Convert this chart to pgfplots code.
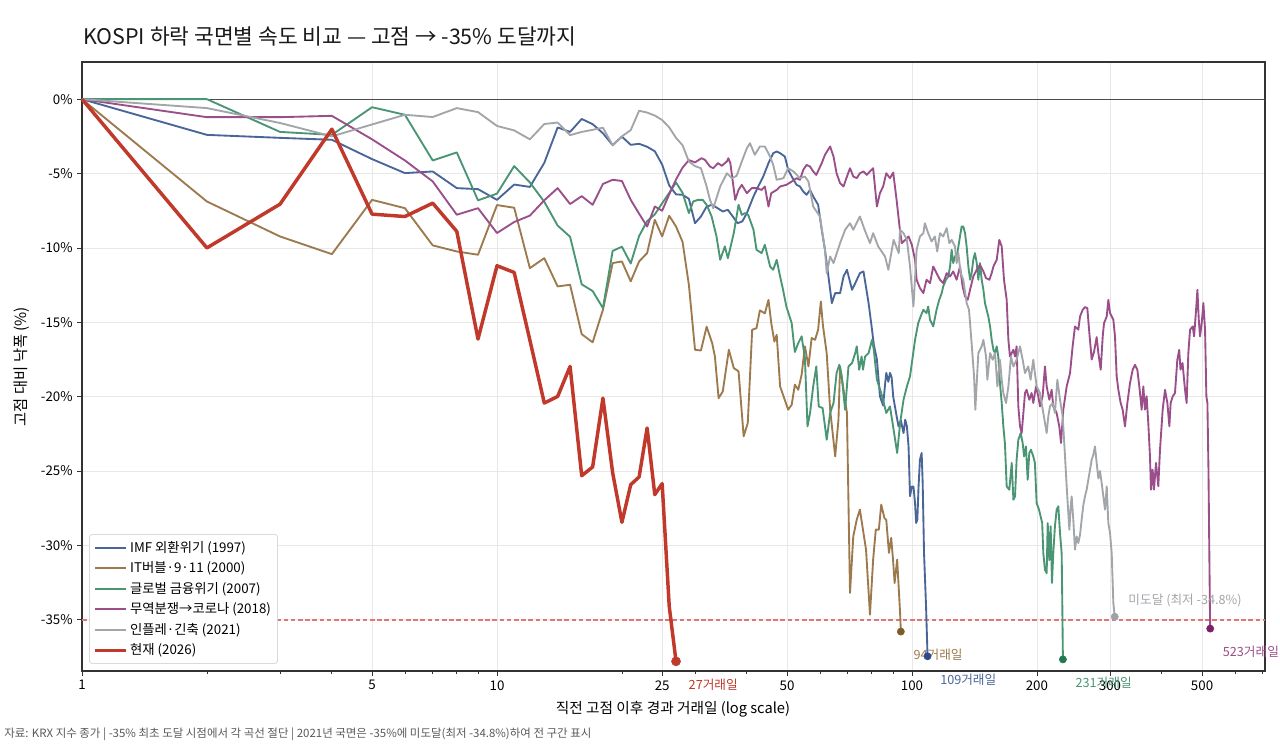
\documentclass[border=0pt]{standalone}
\usepackage{fontspec}
\setmainfont{Noto Sans CJK KR}
\usepackage{pgfplots}
\pgfplotsset{compat=1.18}
\definecolor{cIMF}{HTML}{4A6699}
\definecolor{cIT}{HTML}{9C7A4E}
\definecolor{cGFC}{HTML}{4A9573}
\definecolor{cTrade}{HTML}{9A4E8A}
\definecolor{cInfl}{HTML}{A2A5A9}
\definecolor{cNow}{HTML}{C0392B}
\definecolor{dIMF}{HTML}{2E4A88}
\definecolor{dIT}{HTML}{7F5A26}
\definecolor{dGFC}{HTML}{1F7A50}
\definecolor{dTrade}{HTML}{7E1E64}
\definecolor{dInfl}{HTML}{9EA1A6}
\definecolor{refline}{RGB}{226,118,118}
\begin{document}
\begin{tikzpicture}
\path[use as bounding box] (0,0) rectangle (960pt,-561.75pt);
\node[anchor=base west, inner sep=0pt, font=\fontsize{16.1}{18}\selectfont, text=black!90] at (62.25pt,-33.75pt) {KOSPI 하락 국면별 속도 비교 — 고점 → -35\% 도달까지};
\node[rotate=90, font=\fontsize{11.5}{13}\selectfont] at (16.5pt,-274.9pt) {고점 대비 낙폭 (\%)};
\node[font=\fontsize{11}{13}\selectfont] at (504.75pt,-531.75pt) {직전 고점 이후 경과 거래일 (log scale)};
\node[anchor=west, inner sep=0pt, font=\fontsize{8.6}{10}\selectfont, text=black!65] at (3pt,-550.5pt) {자료: KRX 지수 종가 | -35\% 최초 도달 시점에서 각 곡선 절단 | 2021년 국면은 -35\%에 미도달(최저 -34.8\%)하여 전 구간 표시};
\begin{axis}[
  at={(61.5pt,-503.25pt)}, anchor=south west,
  scale only axis, width=887.25pt, height=456.75pt,
  xmode=log, xmin=1, xmax=709, ymin=-38.45, ymax=2.5,
  clip=false,
  xtick={1,5,10,25,50,100,200,300,500},
  xticklabels={1,5,10,25,50,100,200,300,500},
  minor xtick={2,3,4,6,7,8,9,20,30,40,60,70,80,90,400,600,700},
  ytick={-35,-30,-25,-20,-15,-10,-5,0},
  yticklabels={-35\%,-30\%,-25\%,-20\%,-15\%,-10\%,-5\%,0\%},
  tick label style={font=\fontsize{10}{12}\selectfont},
  tick align=outside, tick pos=left,
  major tick length=3.5pt, minor tick length=2pt,
  tick style={black!80, line width=0.6pt},
  axis line style={black!80, line width=0.8pt},
  grid=major, major grid style={black!9, line width=0.5pt},
  legend style={at={(0.006,0.012)}, anchor=south west, draw=black!22, rounded corners=2pt,
    fill=white, font=\fontsize{10}{12}\selectfont, row sep=1.6pt, inner sep=3pt,
    cells={anchor=west}},
  legend image code/.code={\draw[#1] (0pt,0pt) -- (23pt,0pt);},
  every axis plot/.append style={line join=round},
]
\addplot[black!70, line width=0.75pt, forget plot] coordinates {(1,0) (709,0)};
\addplot[draw=refline, line width=1.2pt, dash pattern=on 3.4pt off 2pt, forget plot] coordinates {(1,-35) (709,-35)};

% IMF 1997
\addplot[cIMF, line width=1.4pt] coordinates {
(1,0)(2,-2.4)(3,-2.6)(4,-2.73)(5,-4.03)(6,-4.97)(7,-4.86)(8,-5.98)(9,-6.05)(10,-6.77)
(11,-5.74)(12,-5.9)(13,-4.28)(14,-1.9)(15,-2.2)(16,-1.33)(17,-1.68)(18,-2.29)(19,-3.09)(20,-2.52)
(21,-3.07)(22,-3.0)(23,-3.2)(24,-3.5)(25,-4.4)(26,-5.8)(27,-6.4)(28,-6.43)(29,-6.7)(30,-8.34)
(31,-7.89)(32,-7.22)(33,-7.1)(34,-7.33)(35,-7.55)(36,-7.44)(37,-7.89)(38,-8.34)(39,-8.22)(40,-7.66)
(41.5,-6.54)(42.6,-5.87)(43.8,-5.2)(45.1,-4.3)(46.3,-3.63)(47.2,-3.52)(48.1,-3.63)(49.4,-3.86)(50.3,-4.75)(51.3,-5.2)
(52.7,-5.76)(53.7,-5.87)(54.7,-6.21)(55.7,-6.43)(56.8,-6.1)(57.8,-6.54)(59.4,-7.1)(60.6,-8.78)(61.7,-10.13)(62.9,-11.92)
(64.1,-13.71)(65.3,-13.04)(67.1,-13.04)(68.4,-11.92)(69.7,-11.47)(71.7,-12.82)(73,-12.37)(74.9,-11.7)(76.4,-11.58)(78.6,-13.71)
(80.1,-15.5)(80.9,-16.5)(82.3,-17.5)(83.7,-19.98)(85.2,-20.6)(86.1,-19.2)(86.7,-18.4)(87.7,-19.0)(88.5,-18.4)(89.3,-18.7)
(90.1,-20.0)(91.8,-21.3)(92.8,-22.0)(94,-21.6)(95.4,-22.45)(96.3,-21.55)(97.2,-22.0)(98.1,-23.34)(98.9,-26.7)(99.9,-26.04)
(100.8,-26.04)(101.7,-27.16)(102.3,-28.5)(103,-28.28)(103.7,-26.04)(104.5,-24.24)(105.5,-23.79)(106.1,-25.81)(106.9,-30.52)(108.1,-34.1)
(109,-37.46)};
\addlegendentry{IMF 외환위기 (1997)}

% IT 2000
\addplot[cIT, line width=1.4pt] coordinates {
(1,0)(2,-6.88)(3,-9.23)(4,-10.42)(5,-6.77)(6,-7.33)(7,-9.83)(8,-10.24)(9,-10.46)(10,-7.12)
(11,-7.3)(12,-11.36)(13,-10.69)(14,-12.59)(15,-12.48)(16,-15.8)(17,-16.35)(18,-14.16)(19,-11.02)(20,-10.91)
(21,-12.25)(22,-10.91)(23,-10.35)(24,-8.11)(25,-9.23)(26,-7.84)(27,-8.56)(28,-9.6)(29,-12.5)(30,-16.85)
(31,-16.9)(32,-15.3)(33,-16.4)(33.5,-17.3)(34.2,-20.1)(35,-19.65)(36.2,-16.85)(37.2,-18.08)(38.2,-18.3)(39.3,-22.67)
(40.2,-21.78)(41.2,-15.5)(42.2,-15.4)(43,-14.2)(44.2,-14.4)(45.1,-13.5)(45.8,-15.06)(46.6,-16.3)(47.2,-15.84)(48.1,-19.31)
(49.2,-20.1)(50.3,-20.88)(51.3,-20.54)(52.2,-19.2)(53.2,-19.54)(54.2,-18.53)(55.2,-16.62)(56.3,-17.97)(57.3,-16.06)(58.4,-16.18)
(59.4,-15.5)(60.3,-13.6)(61,-15.2)(62.3,-17.1)(63.5,-20.88)(65.3,-24.02)(66.5,-21.55)(67.1,-17.97)(68.4,-19.54)(69.7,-21.1)
(70.9,-33.2)(72.2,-29.39)(73.6,-28.27)(74.9,-27.6)(76.4,-29.17)(77.5,-30.29)(79.2,-34.66)(80.6,-30.96)(81.8,-28.94)(83.2,-28.94)
(84.3,-27.26)(85.8,-28.16)(86.7,-28.3)(88,-30.51)(89.1,-29.5)(90,-30.96)(90.8,-32.53)(92.1,-30.96)(93.6,-34.55)(94,-35.8)};
\addlegendentry{IT버블·9·11 (2000)}

% GFC 2007
\addplot[cGFC, line width=1.4pt] coordinates {
(1,0)(2,0)(3,-2.2)(4,-2.4)(5,-0.54)(6,-1.05)(7,-4.12)(8,-3.58)(9,-6.8)(10,-6.35)
(11,-4.5)(12,-5.6)(13,-6.9)(14,-8.5)(15,-9.25)(16,-12.45)(17,-12.9)(18,-14.05)(19,-10.2)(20,-9.92)
(21,-11.05)(22,-9.2)(23,-8.2)(24,-7.75)(25,-7.0)(26,-6.3)(27,-5.6)(28,-6.3)(29,-7.66)(29.7,-6.88)
(30.5,-6.77)(31.3,-6.77)(32,-7.1)(32.9,-7.89)(33.8,-9.23)(34.5,-10.8)(35.4,-9.9)(36,-10.69)(37.2,-9.01)(38.2,-7.1)
(38.9,-7.78)(39.6,-7.66)(40.3,-7.78)(41.5,-8.78)(42.2,-10.13)(43.4,-10.35)(44.2,-9.79)(45.5,-11.25)(46.3,-11.47)(47.2,-10.8)
(48.1,-11.92)(48.9,-12.82)(49.8,-13.94)(51.3,-15.06)(51.8,-16.18)(52.2,-17.0)(53.2,-16.4)(54.2,-15.95)(55.2,-17.4)(56,-22.0)
(56.8,-21.1)(57.8,-19.31)(58.8,-17.97)(59.6,-20.66)(60.9,-20.77)(62.3,-22.9)(63.5,-21.1)(64.7,-20.43)(65.8,-18.42)(66.8,-17.86)
(67.7,-18.64)(69,-20.88)(70.3,-17.97)(71.7,-17.74)(73,-17.07)(73.6,-16.62)(74.6,-18.19)(75.6,-17.3)(76.2,-18.19)(77.1,-17.3)
(78.6,-17.07)(80.1,-16.18)(80.9,-16.85)(82.3,-18.86)(84.3,-19.76)(86.7,-21.1)(88.5,-20.66)(90.8,-22.67)(92.1,-23.79)(93.6,-21.8)
(95.4,-20.21)(97.2,-19.31)(98.9,-18.64)(101.7,-16.18)(103.5,-15.06)(104.9,-14.61)(106.5,-14.16)(108.4,-14.38)(109.4,-13.94)(110.5,-14.83)
(112.5,-15.28)(114.6,-14.16)(116.3,-13.49)(117.9,-13.04)(118.9,-12.59)(120.7,-12.14)(122.3,-11.92)(123.5,-11.25)(124.6,-10.13)(125.7,-11.02)
(126.9,-10.58)(128.6,-10.35)(130.5,-9.23)(131.7,-8.56)(132.9,-8.56)(134.2,-9.01)(135.4,-9.9)(136.7,-11.25)(138,-12.14)(139.2,-11.7)
(140.5,-10.8)(141.8,-10.35)(143.2,-11.02)(144.5,-12.14)(145.8,-11.02)(147.2,-12.14)(148.6,-12.82)(149.9,-13.71)(151.3,-14.16)(152.7,-14.61)
(154.2,-15.28)(155.6,-16.18)(157.1,-16.85)(158.5,-17.07)(160,-16.62)(161.4,-17.3)(162.9,-19.09)(164.5,-20.43)(166,-22.0)(167.5,-23.2)
(169.1,-26.04)(171.6,-26.26)(173.9,-24.46)(175.5,-26.93)(177.1,-26.71)(178.7,-24.24)(180.4,-22.9)(182.8,-22.45)(184.8,-23.12)(186.2,-24.02)
(188.2,-23.35)(190,-25.59)(191.7,-23.79)(193.5,-23.57)(196,-24.02)(197.8,-24.46)(199.7,-27.16)(202.3,-27.6)(205.9,-28.5)(207.2,-30.52)
(209.1,-31.65)(211.1,-31.87)(212.3,-28.5)(214.2,-31.0)(215.8,-28.72)(217.4,-32.53)(219,-30.52)(221,-28.72)(223.1,-27.6)(225.2,-27.38)
(227.3,-29.17)(229.4,-30.52)(230.2,-33.87)(231,-37.67)};
\addlegendentry{글로벌 금융위기 (2007)}

% Trade war -> Corona 2018
\addplot[cTrade, line width=1.4pt] coordinates {
(1,0)(2,-1.21)(3,-1.21)(4,-1.12)(5,-2.7)(6,-4.12)(7,-5.53)(8,-7.77)(9,-7.33)(10,-9.0)
(11,-8.26)(12,-7.83)(13,-6.8)(14,-5.98)(15,-7.05)(16,-6.52)(17,-7.1)(18,-5.7)(19,-5.42)(20,-5.5)
(21,-6.77)(22,-7.7)(23,-8.56)(24,-7.22)(25,-7.5)(26,-6.4)(27,-5.4)(28,-4.6)(29,-4.1)(30,-4.25)
(31.1,-3.97)(31.7,-4.08)(32.6,-4.53)(33.2,-4.64)(34.1,-4.3)(34.8,-4.48)(35.8,-4.19)(36.1,-3.97)(36.5,-4.3)(37.5,-6.77)
(38.2,-6.1)(38.9,-5.76)(40,-6.32)(41.1,-5.98)(42.2,-5.98)(43.4,-6.1)(44.2,-5.87)(45.1,-7.22)(45.8,-6.32)(47.2,-6.1)
(48.1,-5.87)(49.8,-5.76)(51.3,-5.54)(52.7,-5.31)(53.7,-5.42)(54.7,-4.75)(55.7,-4.42)(56.8,-4.53)(57.8,-4.86)(58.8,-5.09)
(60.6,-4.3)(61.7,-3.74)(63.5,-3.18)(64.7,-3.86)(65.8,-4.98)(67.1,-5.65)(68.4,-5.87)(69.7,-5.2)(70.9,-4.64)(72.2,-5.2)
(73.6,-5.31)(74.9,-4.98)(76.4,-4.86)(77.8,-5.09)(79.2,-4.86)(80.6,-4.64)(82.3,-7.22)(83.7,-6.32)(85.2,-5.87)(86.7,-4.98)
(88.5,-5.31)(90.1,-4.93)(91.8,-6.77)(93.6,-8.9)(94.5,-9.68)(96.3,-9.46)(98.1,-9.23)(99.9,-9.79)(101.7,-10.8)(102.6,-12.14)
(104.5,-12.7)(106.5,-13.04)(108.4,-12.14)(110.5,-12.37)(112.5,-11.25)(114.6,-11.7)(116.8,-12.14)(118.9,-12.37)(121.2,-11.7)(123.5,-11.92)
(125.7,-11.58)(128.1,-12.14)(130.5,-11.25)(132.4,-12.59)(134.2,-13.26)(136.2,-13.49)(138,-12.82)(140.5,-11.92)(143.2,-11.47)(145.8,-11.14)
(148.6,-11.58)(150.8,-12.03)(153.6,-12.14)(155.6,-11.7)(157.1,-11.25)(160,-10.8)(162.3,-9.46)(164.5,-9.9)(166.6,-12.14)(169.1,-13.49)
(170.7,-16.18)(172.2,-17.3)(173.9,-17.07)(175.5,-16.85)(177.1,-17.3)(178.7,-16.62)(180.4,-20.66)(182.1,-22.0)(183.8,-22.45)(185.5,-21.1)
(187.2,-19.76)(188.9,-19.54)(191.7,-20.21)(194.2,-19.76)(196,-20.43)(199,-19.31)(201.5,-19.98)(203.4,-20.66)(206.4,-19.98)(209.1,-17.97)
(211.1,-19.31)(214.2,-20.21)(217,-19.54)(219,-20.66)(223.1,-21.1)(226.4,-22.0)(228.6,-23.12)(231.5,-20.88)(235.9,-19.31)(240.3,-18.42)
(243.8,-16.62)(247,-15.28)(251.6,-15.5)(254,-14.61)(257.8,-14.16)(261.1,-13.98)(264.5,-14.05)(267.5,-15.73)(271,-17.5)(274.5,-17.0)
(278.6,-16.0)(281.2,-17.07)(284.9,-18.19)(288.1,-15.95)(290.2,-15.06)(294.6,-14.61)(297.2,-13.49)(300,-14.38)(305.6,-14.83)(308.4,-15.95)
(311.3,-18.64)(314.2,-19.54)(318.3,-20.43)(321.8,-20.88)(326,-22.0)(330.3,-20.43)(335.2,-19.09)(340.2,-18.19)(344.6,-17.86)(349.1,-18.19)
(353,-19.31)(357.6,-20.88)(360.9,-19.31)(364.2,-20.88)(367.6,-19.98)(371,-21.78)(374.5,-24.02)(376.6,-26.26)(380.1,-24.91)(382.9,-26.26)
(387.2,-24.46)(392.2,-26.03)(395.9,-23.57)(401.8,-20.88)(407,-19.54)(412.4,-20.43)(417,-22.0)(420,-20.43)(424.8,-19.98)(430.2,-19.76)
(435.8,-17.52)(440.4,-16.85)(443.6,-18.19)(448.6,-17.74)(454.8,-19.54)(458.9,-20.43)(463.3,-17.07)(467.7,-15.5)(474.7,-15.28)(478.3,-15.95)
(483.6,-14.16)(487.2,-12.82)(490.9,-14.83)(494.3,-15.95)(499,-15.06)(503.6,-13.71)(508.3,-15.5)(512,-19.98)(515,-20.43)(518,-24.91)
(520,-29.39)(522,-33.87)(523,-35.6)};
\addlegendentry{무역분쟁→코로나 (2018)}

% Inflation 2021
\addplot[cInfl, line width=1.4pt] coordinates {
(1,0)(2,-0.6)(3,-1.6)(4,-2.5)(5,-1.7)(6,-1.05)(7,-1.2)(8,-0.6)(9,-0.87)(10,-1.8)
(11,-2.1)(12,-2.7)(13,-1.67)(14,-1.57)(15,-2.42)(16,-2.2)(17,-2.06)(18,-1.92)(19,-3.1)(20,-2.5)
(21,-2.08)(22,-0.78)(23,-0.9)(24,-1.1)(25,-1.4)(26,-1.9)(27,-2.6)(28,-3.1)(29,-4.2)(30,-4.5)
(31,-4.64)(32,-5.87)(32.6,-6.77)(33.2,-7.33)(34.5,-5.87)(35.8,-4.98)(36.8,-5.31)(37.8,-5.15)(38.9,-4.19)(40,-3.3)
(40.7,-2.96)(41.8,-3.74)(43,-3.18)(44.2,-3.18)(45.5,-3.86)(46.3,-4.42)(47.2,-5.42)(49,-5.31)(50.3,-4.64)(51.8,-4.86)
(53.7,-5.31)(55.2,-5.2)(56.3,-5.54)(57.8,-7.22)(60,-7.89)(61.7,-10.13)(62.3,-11.7)(63.5,-10.58)(64.7,-11.02)(67.1,-9.68)
(69,-8.78)(70.9,-8.34)(72.2,-8.78)(74.9,-7.89)(76.9,-8.78)(79.2,-9.68)(80.6,-9.01)(82.9,-9.9)(86.1,-10.58)(87.7,-11.47)
(90.3,-9.46)(92.9,-10.35)(93.6,-8.78)(95.4,-9.01)(97.2,-9.46)(98.9,-11.25)(100.8,-13.94)(102.6,-10.13)(104.5,-9.23)(106.5,-9.01)
(107.4,-8.34)(109.4,-9.01)(111.5,-9.57)(113.5,-9.23)(115,-10.24)(116.8,-9.01)(118.9,-9.23)(121.2,-8.67)(123,-9.68)(124.6,-9.46)
(126.9,-9.9)(128.1,-11.02)(129.3,-10.35)(131,-11.7)(132.9,-12.14)(135.4,-13.71)(137.2,-14.16)(139.2,-16.4)(141.1,-18.64)(142.1,-20.88)
(143.2,-19.09)(144.5,-17.07)(147.2,-16.62)(148.6,-16.18)(150.8,-17.3)(151.9,-18.86)(154.2,-17.07)(156.5,-17.52)(158.5,-17.07)(160.6,-19.31)
(162.9,-17.52)(164.5,-18.86)(166,-19.76)(168.5,-20.43)(170.7,-19.31)(173.2,-17.3)(175.5,-17.97)(178.7,-17.52)(182.1,-16.62)(184.8,-17.52)
(187.2,-18.42)(190.6,-17.97)(193.1,-18.86)(196,-17.52)(197.8,-18.42)(199.7,-19.31)(203.4,-19.76)(207.2,-21.1)(211.1,-22.45)(213,-21.33)
(215,-20.66)(218.2,-20.43)(221,-21.1)(224,-18.86)(227.3,-20.21)(230.7,-21.33)(233.7,-24.0)(235.9,-26.04)(237.2,-27.16)(239.4,-28.95)
(241.2,-27.39)(242.5,-26.71)(244.7,-28.28)(247,-30.29)(249.3,-29.4)(251.6,-29.84)(254,-29.3)(256.3,-28.28)(258.7,-27.3)(261.1,-26.71)
(263.5,-26.26)(266,-25.59)(268.5,-24.91)(271,-24.24)(273.5,-23.9)(276,-23.35)(278.6,-24.46)(281.2,-25.5)(283.8,-25.0)(286.4,-25.81)
(289.1,-26.71)(291.8,-27.6)(294.6,-26.04)(297.2,-28.5)(300,-29.17)(302.8,-30.51)(305.6,-33.87)(308,-34.8)};
\addlegendentry{인플레·긴축 (2021)}

% Current 2026
\addplot[cNow, line width=2.6pt] coordinates {
(1,0)(2,-10.0)(3,-7.06)(4,-2.02)(5,-7.73)(6,-7.89)(7,-6.99)(8,-8.89)(9,-16.13)(10,-11.2)
(11,-11.65)(12,-16.2)(13,-20.43)(14,-19.99)(15,-17.97)(16,-25.32)(17,-24.73)(18,-20.1)(19,-25.13)(20,-28.45)
(21,-25.92)(22,-25.4)(23,-22.11)(24,-26.59)(25,-25.85)(26,-34.1)(27,-37.8)};
\addlegendentry{현재 (2026)}

% end markers
\addplot[only marks, mark=*, mark size=2.7pt, dIT, forget plot] coordinates {(94,-35.8)};
\addplot[only marks, mark=*, mark size=2.7pt, dIMF, forget plot] coordinates {(109,-37.46)};
\addplot[only marks, mark=*, mark size=2.7pt, dGFC, forget plot] coordinates {(231,-37.67)};
\addplot[only marks, mark=*, mark size=2.7pt, dTrade, forget plot] coordinates {(523,-35.6)};
\addplot[only marks, mark=*, mark size=2.7pt, dInfl, forget plot] coordinates {(308,-34.8)};
\addplot[only marks, mark=*, mark size=3.4pt, cNow, forget plot] coordinates {(27,-37.8)};

\node[anchor=west, xshift=6pt, yshift=-17.25pt, text=cNow, font=\fontsize{9.5}{11}\selectfont] at (axis cs:27,-37.8) {27거래일};
\node[anchor=west, xshift=6pt, yshift=-17.25pt, text=cIT, font=\fontsize{9.5}{11}\selectfont] at (axis cs:94,-35.8) {94거래일};
\node[anchor=west, xshift=6pt, yshift=-17.25pt, text=cIMF, font=\fontsize{9.5}{11}\selectfont] at (axis cs:109,-37.46) {109거래일};
\node[anchor=west, xshift=6pt, yshift=-17.25pt, text=cGFC, font=\fontsize{9.5}{11}\selectfont] at (axis cs:231,-37.67) {231거래일};
\node[anchor=west, xshift=6pt, yshift=-17.25pt, text=cTrade, font=\fontsize{9.5}{11}\selectfont] at (axis cs:523,-35.6) {523거래일};
\node[anchor=west, xshift=6.75pt, yshift=12pt, text=cInfl, font=\fontsize{9.5}{11}\selectfont] at (axis cs:308,-34.8) {미도달 (최저 -34.8\%)};
\end{axis}
\end{tikzpicture}
\end{document}
